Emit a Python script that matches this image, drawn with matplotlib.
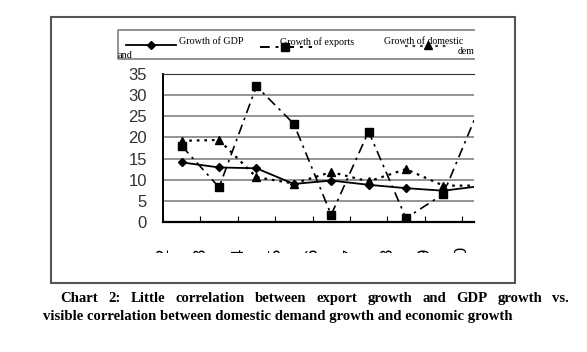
import numpy as np
import matplotlib
matplotlib.use("Agg")
import matplotlib.pyplot as plt
from matplotlib.patches import Rectangle
from matplotlib.transforms import Bbox, TransformedBbox

years = ["1992", "1993", "1994", "1995", "1996", "1997", "1998", "1999", "2000"]
gdp = [14.1, 12.9, 12.7, 9.0, 9.8, 8.8, 8.0, 7.4, 8.5]
exports = [18.0, 8.2, 32.1, 23.2, 1.7, 21.4, 0.9, 6.6, 27.8]
domestic = [19.2, 19.4, 10.6, 9.1, 11.8, 9.6, 12.5, 8.6, 8.6]

W, H = 587, 352
fig = plt.figure(figsize=(W / 100, H / 100), dpi=100)

def px(x0, y0, x1, y1):
    # pixel box (top-left origin) -> figure fraction
    return [x0 / W, 1 - y1 / H, (x1 - x0) / W, (y1 - y0) / H]

# main chart, cut off at the right like the scan
ax = fig.add_axes(px(163, 74, 474, 222))
x = np.arange(len(gdp))
ax.plot(x, gdp, color="black", lw=1.3, marker="D", ms=4.5)
ax.plot(x, exports, color="black", lw=1.2, ls=(0, (6, 3, 1.5, 3)), marker="s", ms=6)
ax.plot(x, domestic, color="black", lw=1.6, ls=(0, (1.2, 2.2)), marker="^", ms=6)
ax.set_xlim(-0.5, 7.82)
ax.set_ylim(0, 35)
ax.set_yticks(np.arange(0, 36, 5))
ax.yaxis.grid(True, color="#777777", lw=1.1)
ax.set_axisbelow(True)
ax.set_xticks(np.arange(len(years)) - 0.5)
ax.set_xticklabels(years, rotation=90, va="top", family="Liberation Sans", fontsize=12)
ax.tick_params(axis="x", direction="in", length=4, width=0.8, pad=17.5)
ax.tick_params(axis="y", length=0, pad=11.5, labelsize=12)
for lbl in ax.get_yticklabels():
    lbl.set_family("Liberation Sans")
    lbl.set_color("#333333")
ax.spines["right"].set_visible(False)
ax.spines["top"].set_color("#333333")
ax.spines["left"].set_linewidth(1.4)
ax.spines["bottom"].set_linewidth(1.6)

# the scan cuts the year labels off just below their tops
clip = TransformedBbox(Bbox([[0, 1 - 253 / H], [1, 1]]), fig.transFigure)
for lbl in ax.get_xticklabels():
    lbl.set_clip_box(clip)
    lbl.set_clip_on(True)

# overlay in pixel coordinates: frame, legend, caption
ov = fig.add_axes([0, 0, 1, 1], zorder=5)
ov.set_xlim(0, W)
ov.set_ylim(H, 0)
ov.axis("off")
ov.patch.set_alpha(0)
ov.add_patch(Rectangle((51, 17), 464, 266, fill=False, edgecolor="#555555", lw=1.5))

# legend box (open on the right)
ov.plot([474, 118, 118, 474], [30, 30, 59, 59], color="#888888", lw=1.3)
serif = "Liberation Serif"
ov.plot([126, 176], [45, 45], color="black", lw=1.3)
ov.plot([151], [45], color="black", marker="D", ms=4.5)
ov.text(179, 42, "Growth of GDP", family=serif, fontsize=7.3, va="center")
ov.plot([260, 312], [47, 47], color="black", lw=1.4, ls=(0, (5, 3, 1.5, 3)))
ov.plot([285], [47], color="black", marker="s", ms=6)
ov.text(280, 42, "Growth of exports", family=serif, fontsize=7.3, va="center")
ov.plot([405, 450], [46, 46], color="#444444", lw=1.6, ls=(0, (1.2, 2.2)))
ov.plot([428], [45], color="black", marker="^", ms=6)
ov.text(384, 41, "Growth of domestic", family=serif, fontsize=7.1, va="center")
ov.text(474, 51, "dem", family=serif, fontsize=7.1, va="center", ha="right")
ov.text(118, 56, "and", family=serif, fontsize=7.3, va="center", ha="left")

# caption, first line justified
words = "Chart 2: Little correlation between export growth and GDP growth vs.".split()
texts = [ov.text(0, 302, w, family=serif, weight="bold", fontsize=10.6, va="baseline") for w in words]
ov.text(43, 320, "visible correlation between domestic demand growth and economic growth",
        family=serif, weight="bold", fontsize=10.6, va="baseline")
fig.canvas.draw()
r = fig.canvas.get_renderer()
widths = [t.get_window_extent(r).width for t in texts]
x0, x1 = 60, 569
gap = (x1 - x0 - sum(widths)) / (len(words) - 1)
pos = x0
for t, w in zip(texts, widths):
    t.set_x(pos)
    pos += w + gap

fig.savefig("out.png", dpi=100)
